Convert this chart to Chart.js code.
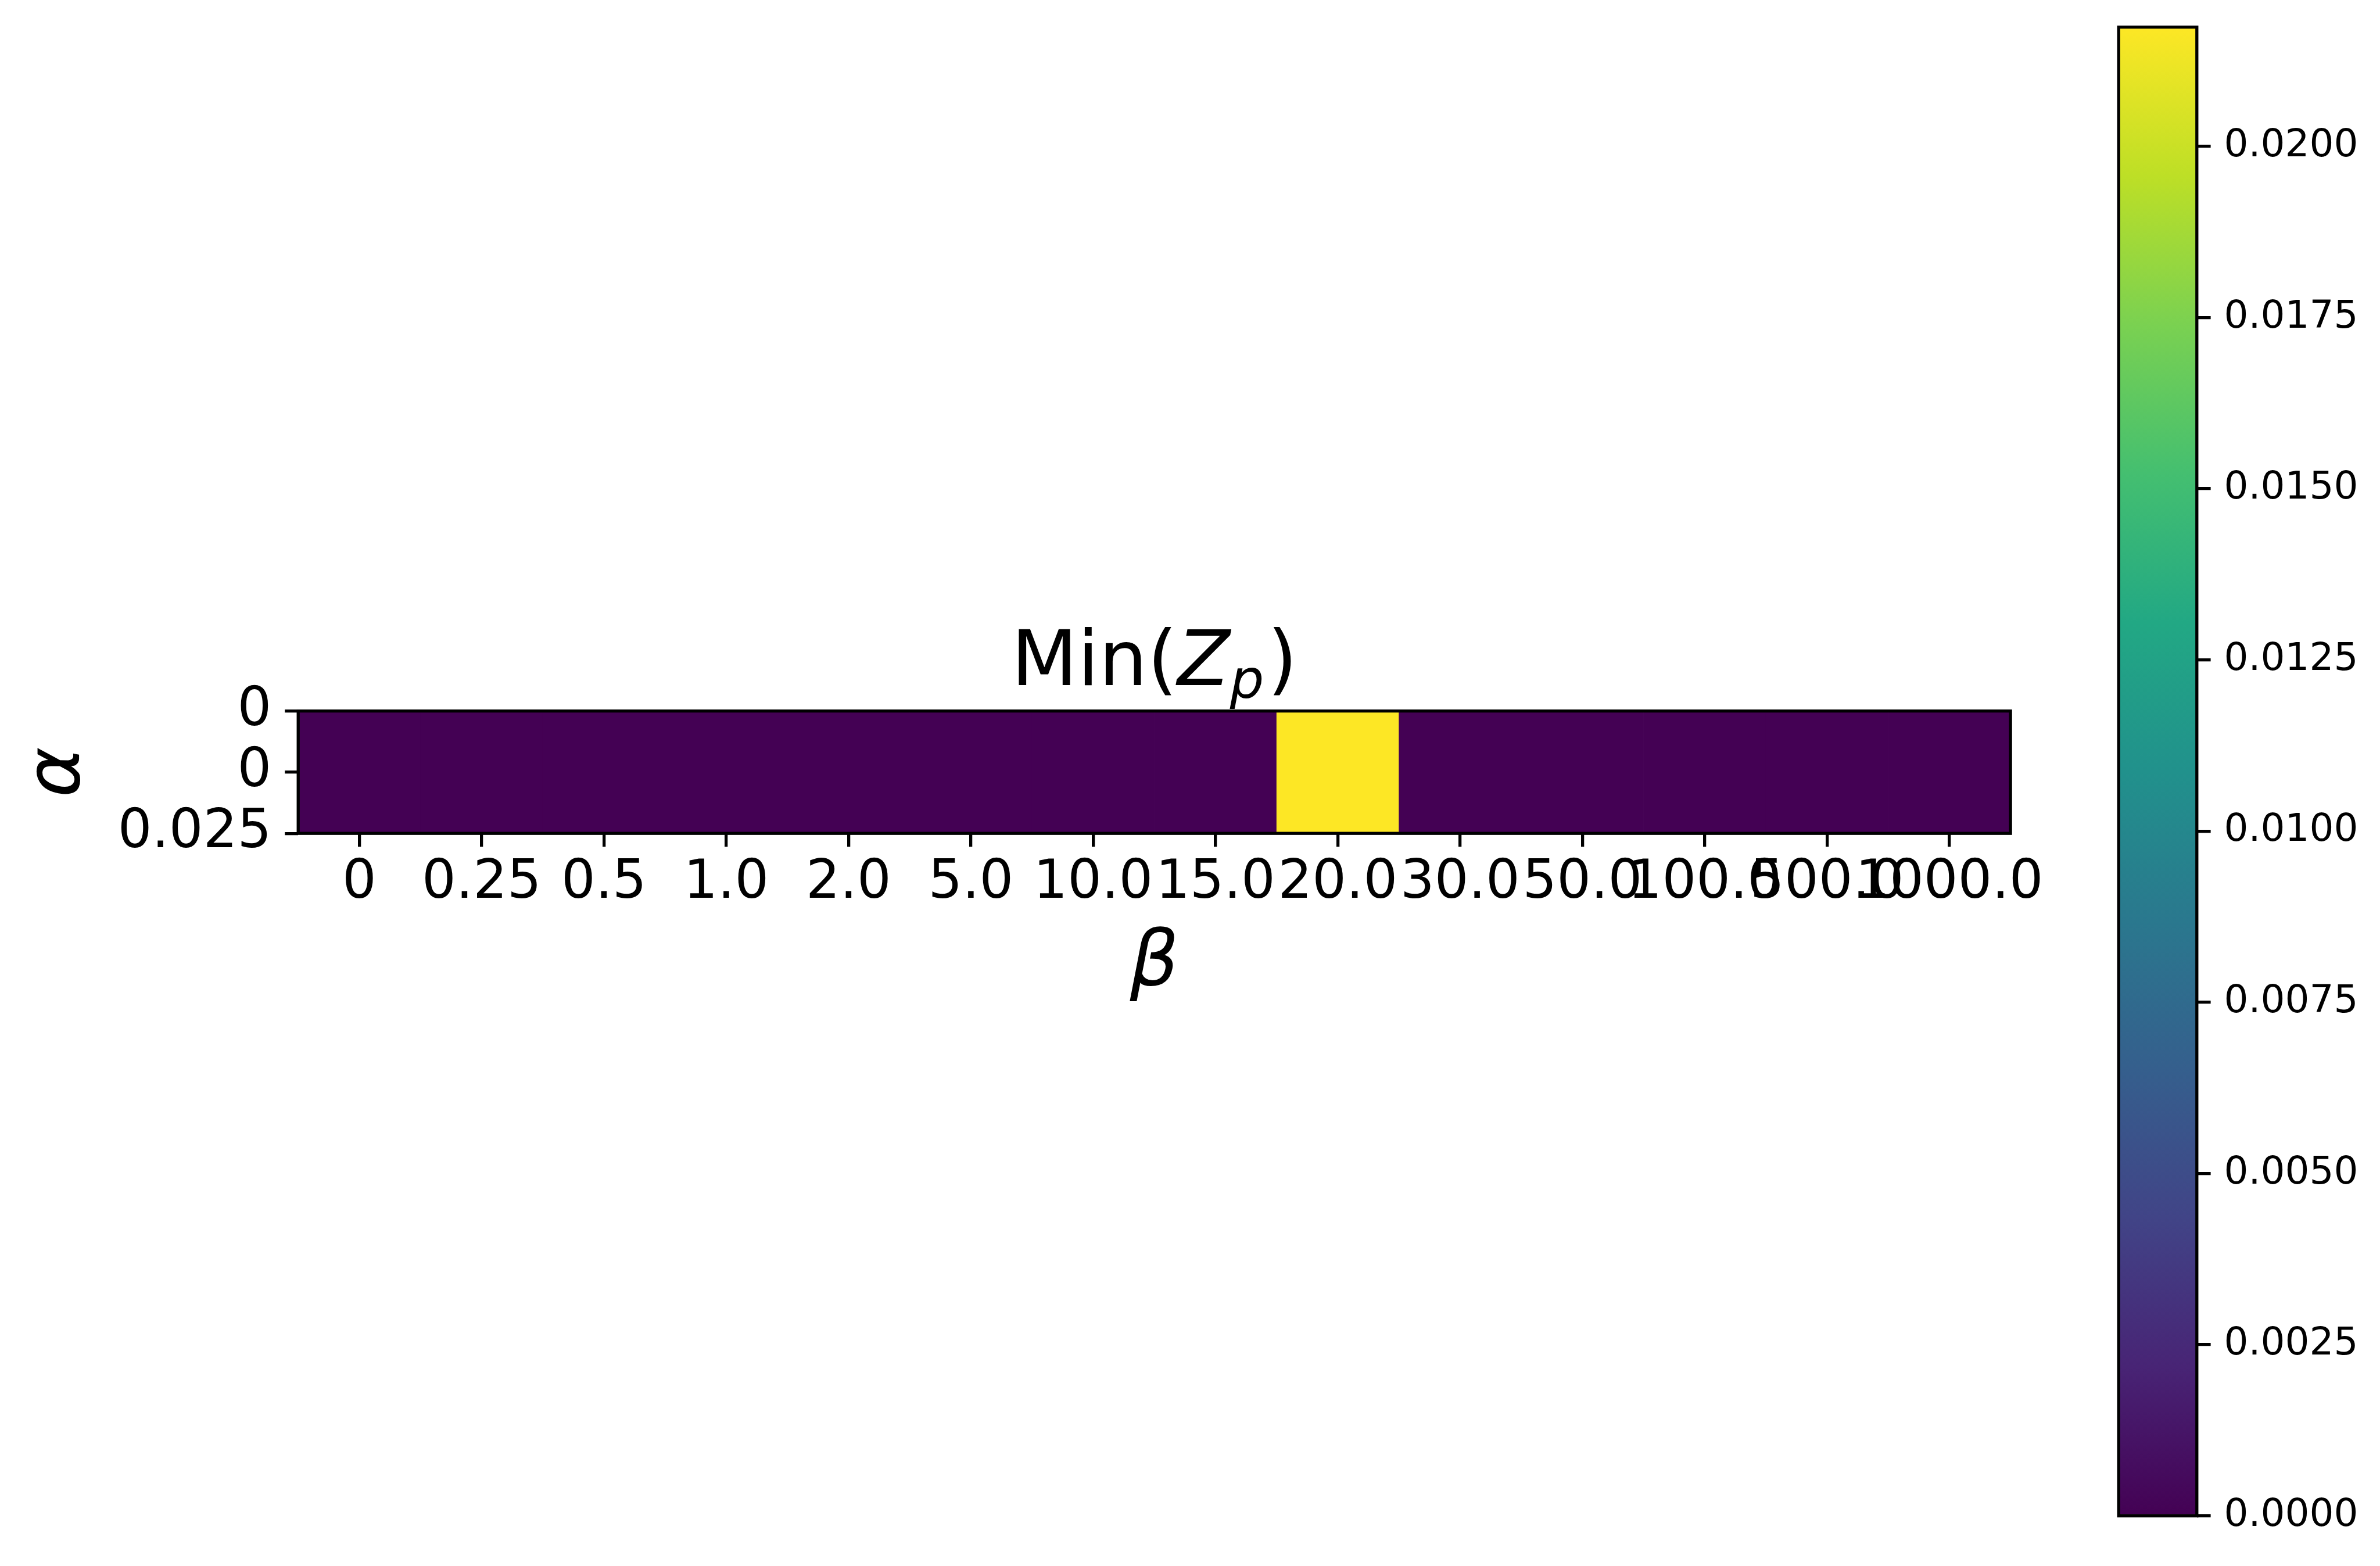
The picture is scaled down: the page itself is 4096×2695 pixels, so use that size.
<!DOCTYPE html>
<html><head><meta charset="utf-8">
<script src="https://cdn.jsdelivr.net/npm/chart.js@4.4.0/dist/chart.umd.min.js"></script>
<style>
html,body{margin:0;padding:0;background:#fff;overflow:hidden;}
#wrap{position:relative;width:4096px;height:2695px;background:#fff;}
#main{position:absolute;left:0;top:0;width:4096px;height:2695px;}
#cbar{position:absolute;left:3600px;top:0;width:496px;height:2695px;}
</style></head><body>
<div id="wrap"><div id="main"><canvas id="c1"></canvas></div><div id="cbar"><canvas id="c2"></canvas></div></div>
<script>
// ---- data ----
const betaLabels = ['0','0.25','0.5','1.0','2.0','5.0','10.0','15.0','20.0','30.0','50.0','100.0','500.0','1000.0'];
const alphaRows = [0];
const alphaTickValues = [-0.5, 0, 0.5];
const alphaTickLabels = ['0','0','0.025'];
const minZp = [0,0,0,0,0,0,0,0,0.02174,0,0,0,0,0];
const cbarTickValues = [0,0.0025,0.005,0.0075,0.01,0.0125,0.015,0.0175,0.02];
const cbarTickLabels = ['0.0000','0.0025','0.0050','0.0075','0.0100','0.0125','0.0150','0.0175','0.0200'];
const titleParts = [
  {text:'Min(', italic:false, sub:false},
  {text:'Z', italic:true, sub:false},
  {text:'p', italic:true, sub:true},
  {text:')', italic:false, sub:false}
];
const xTitle = 'β';
const yTitle = 'α';

// ---- style ----
const FAM = '"DejaVu Sans"';
const VIRIDIS = ['#440154','#482475','#414487','#355f8d','#2a788e','#21918c','#22a884','#44bf70','#7ad151','#bddf26','#fde725'];
const LW = 5.28;
const zMin = 0;
const zMax = Math.max(...minZp);
const XH = 294;

function hex2rgb(h){return [parseInt(h.substr(1,2),16),parseInt(h.substr(3,2),16),parseInt(h.substr(5,2),16)];}
function viridis(t){
  t=Math.max(0,Math.min(1,t));
  const n=VIRIDIS.length-1;
  const i=Math.min(n-1,Math.floor(t*n));
  const f=t*n-i;
  const a=hex2rgb(VIRIDIS[i]), b=hex2rgb(VIRIDIS[i+1]);
  const c=a.map((v,k)=>Math.round(v+(b[k]-v)*f));
  return `rgb(${c[0]},${c[1]},${c[2]})`;
}
function noPad(s){s.paddingTop=0;s.paddingBottom=0;s.paddingLeft=0;s.paddingRight=0;}

const spines = {
  id:'spines',
  afterDatasetsDraw(chart){
    const a=chart.chartArea, ctx=chart.ctx;
    ctx.save(); ctx.strokeStyle='#000'; ctx.lineWidth=LW;
    ctx.strokeRect(a.left,a.top,a.right-a.left,a.bottom-a.top);
    ctx.restore();
  }
};

const mathTitle = {
  id:'mathTitle',
  afterDraw(chart){
    const a=chart.chartArea, ctx=chart.ctx;
    const fs=132, sfs=fs*0.7;
    ctx.save(); ctx.fillStyle='#000'; ctx.textBaseline='alphabetic'; ctx.textAlign='left';
    const items=titleParts.map(p=>{
      const font=`${p.italic?'italic ':''}${p.sub?sfs:fs}px ${FAM}`;
      ctx.font=font;
      return {text:p.text,font,w:ctx.measureText(p.text).width+(p.sub?6:0),dy:p.sub?fs*0.165:0};
    });
    const total=items.reduce((s,i)=>s+i.w,0);
    let x=(a.left+a.right)/2-total/2;
    const y=a.top-44.4;
    items.forEach(i=>{ctx.font=i.font; ctx.fillText(i.text,x,y+i.dy); x+=i.w;});
    ctx.restore();
  }
};

new Chart(document.getElementById('c1'),{
  type:'bar',
  data:{
    labels:betaLabels,
    datasets:alphaRows.map(r=>({
      data:minZp.map(()=>[r-0.5,r+0.5]),
      backgroundColor:minZp.map(v=>viridis((v-zMin)/(zMax-zMin))),
      borderWidth:0,
      barPercentage:1,
      categoryPercentage:1
    }))
  },
  options:{
    responsive:true, maintainAspectRatio:false, devicePixelRatio:1, animation:false,
    layout:{padding:{left:0,top:1223.6,right:635.9,bottom:2695-1434.2-XH}},
    plugins:{legend:{display:false},tooltip:{enabled:false},title:{display:false}},
    scales:{
      x:{
        type:'category', offset:true,
        grid:{display:true,drawOnChartArea:false,drawTicks:true,tickLength:23,lineWidth:LW,color:'#000',offset:false},
        border:{display:false},
        ticks:{color:'#000',font:{family:FAM,size:92.4},padding:8,autoSkip:false,maxRotation:0,minRotation:0},
        title:{display:true,text:xTitle,color:'#000',font:{family:FAM,size:132,style:'italic',lineHeight:1},padding:{top:0,bottom:0}},
        afterFit(s){s.height=XH;noPad(s);}
      },
      y:{
        type:'linear', min:-0.5, max:0.5, reverse:true,
        afterBuildTicks(s){s.ticks=alphaTickValues.map(v=>({value:v}));},
        grid:{display:true,drawOnChartArea:false,drawTicks:true,tickLength:23,lineWidth:LW,color:'#000'},
        border:{display:false},
        ticks:{color:'#000',font:{family:FAM,size:92.4},padding:23,autoSkip:false,callback:(v,i)=>alphaTickLabels[i]},
        title:{display:true,text:yTitle,color:'#000',font:{family:FAM,size:132,style:'italic',lineHeight:1},padding:{top:36,bottom:0}},
        afterFit(s){s.width=513.2;noPad(s);}
      }
    }
  },
  plugins:[spines,mathTitle]
});

new Chart(document.getElementById('c2'),{
  type:'bar',
  data:{
    labels:[''],
    datasets:[{
      data:[[zMin,zMax]],
      backgroundColor:(ctx)=>{
        const ch=ctx.chart; const a=ch.chartArea;
        if(!a) return VIRIDIS[0];
        const y=ch.scales.y;
        const g=ch.ctx.createLinearGradient(0,y.getPixelForValue(zMin),0,y.getPixelForValue(zMax));
        VIRIDIS.forEach((c,i)=>g.addColorStop(i/(VIRIDIS.length-1),c));
        return g;
      },
      borderWidth:0, barPercentage:1, categoryPercentage:1
    }]
  },
  options:{
    responsive:true, maintainAspectRatio:false, devicePixelRatio:1, animation:false,
    layout:{padding:{left:46.2,top:46.7,right:0,bottom:2695-2608.7}},
    plugins:{legend:{display:false},tooltip:{enabled:false}},
    scales:{
      x:{display:false},
      y:{
        position:'right', min:zMin, max:zMax,
        afterBuildTicks(s){s.ticks=cbarTickValues.map(v=>({value:v}));},
        grid:{display:true,drawOnChartArea:false,drawTicks:true,tickLength:23.8,lineWidth:LW,color:'#000'},
        border:{display:false},
        ticks:{color:'#000',font:{family:FAM,size:66},padding:23,autoSkip:false,callback:(v,i)=>cbarTickLabels[i]},
        afterFit(s){s.width=315.2;noPad(s);}
      }
    }
  },
  plugins:[spines]
});
</script>
</body></html>
